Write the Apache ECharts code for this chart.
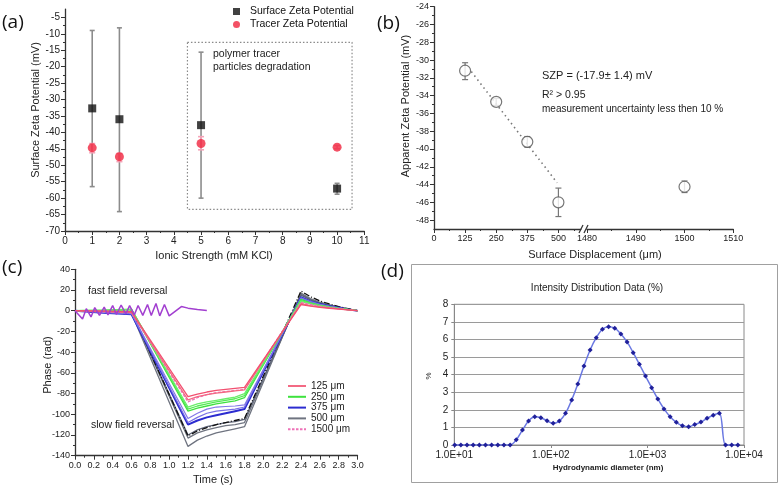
<!DOCTYPE html>
<html><head><meta charset="utf-8">
<script src="https://cdn.jsdelivr.net/npm/echarts@6/dist/echarts.min.js"></script>
<style>html,body{margin:0;padding:0;background:#fff}#c{width:780px;height:486px}</style>
</head><body><div id="c"></div>
<script>
// ---------- (a) ----------
const ionicStrength = [1, 2, 5, 10];
const surfaceZP = [-32.7, -36.0, -37.8, -57.1];
const surfaceZPHigh = [-9.0, -8.2, -15.6, -55.5];
const surfaceZPLow = [-56.5, -64.1, -60.0, -58.8];
const tracerZP = [-44.7, -47.4, -43.4, -44.5];
const tracerZPHigh = [-43.4, -46.4, -41.3, -44.0];
const tracerZPLow = [-46.2, -48.9, -45.3, -45.0];
const degradationBoxX = [4.5, 10.55, 10.55, 4.5, 4.5];
const degradationBoxY = [-12.6, -12.6, -63.4, -63.4, -12.6];
const aXMajor = [0,1,2,3,4,5,6,7,8,9,10,11];
const aXMinor = [0.5,1.5,2.5,3.5,4.5,5.5,6.5,7.5,8.5,9.5,10.5];
const aYMajor = [-70,-65,-60,-55,-50,-45,-40,-35,-30,-25,-20,-15,-10,-5];
const aYMinor = [-67.5,-62.5,-57.5,-52.5,-47.5,-42.5,-37.5,-32.5,-27.5,-22.5,-17.5,-12.5,-7.5];

// ---------- (b) ----------
const displacement = [125, 250, 375, 500];
const apparentZP = [-31.2, -34.7, -39.2, -46.0];
const apparentZPHigh = [-30.3, -34.3, -38.6, -44.4];
const apparentZPLow = [-32.2, -35.1, -39.8, -47.6];
const displacementFar = [1500];
const apparentZPFar = [-44.25];
const apparentZPFarHigh = [-43.6];
const apparentZPFarLow = [-44.9];
const fitX = [150, 495];
const fitY = [-31.3, -43.8];
const bXMajor = [0,125,250,375,500];
const bXMinor = [62.5,187.5,312.5,437.5,562.5];
const bX2Major = [1480,1490,1500,1510];
const bX2Minor = [1485,1495,1505];
const bYMajor = [-48,-46,-44,-42,-40,-38,-36,-34,-32,-30,-28,-26,-24];
const bYMinor = [-47,-45,-43,-41,-39,-37,-35,-33,-31,-29,-27,-25];

// ---------- (c) ----------
const cTime = [0, 0.3, 0.6, 1.2, 1.3, 1.4, 1.5, 1.6, 1.7, 1.8, 2.4, 2.5, 2.6, 2.7, 2.8, 2.9, 3.0];
const phase125a = [0, -0.5, -1, -83, -80.5, -78.5, -77, -76, -75, -74, 6, 4.5, 3.3, 2.4, 1.6, 0.8, 0];
const phase125b = [0, -0.5, -1.5, -86, -83, -81, -79.5, -78.5, -77.5, -76.5, 7, 5, 3.8, 2.7, 1.8, 0.9, 0];
const phase1500 = [0, -1, -2, -88, -84, -81, -79, -78, -77, -76, 8, 6, 4.4, 3.1, 2, 1, 0];
const phase250a = [0, 0.5, 1, -93, -90, -88, -86.5, -85, -83.5, -80, 9, 6.5, 4.6, 3.2, 2, 1, 0];
const phase250b = [0, 0.5, 1.5, -95, -92, -90, -88, -86.5, -85, -82, 10, 7, 5, 3.5, 2.2, 1.1, 0];
const phase250c = [0, 0, 1, -97, -94, -92, -90, -88.5, -87, -84, 11, 7.5, 5.3, 3.7, 2.3, 1.2, 0];
const phase375a = [0, -2, -3.5, -110, -106, -103, -101, -99, -97, -95, 13, 9, 6.5, 4.5, 2.8, 1.3, 0];
const phase375b = [0, -1.5, -2.5, -104, -99, -95, -93, -92.5, -92, -91, 12, 8.5, 6, 4.2, 2.6, 1.2, 0];
const phase375c = [0, -1.5, -3, -108, -103, -99, -97, -96, -95, -93, 12.5, 8.8, 6.2, 4.3, 2.7, 1.3, 0];
const phase500a = [0, -1, -1.5, -120, -115, -112, -110, -108, -107, -105, 15, 10.5, 7.3, 5, 3.2, 1.5, 0];
const phase500b = [0, -1, -2, -123, -118, -115, -113, -111, -110, -108, 16, 11, 7.7, 5.3, 3.4, 1.6, 0];
const phase500c = [0, -1.5, -2.5, -131, -125, -121, -118, -116, -114, -112, 17, 11.8, 8.2, 5.6, 3.6, 1.7, 0];
const phaseRef = [0, -1, -0.5, -121, -116, -113, -110, -108, -106, -104, 19, 13.5, 9.5, 6.5, 4, 1.9, 0];
const fastTime = [0, 0.08, 0.12, 0.17, 0.21, 0.26, 0.31, 0.35, 0.40, 0.44, 0.49, 0.54, 0.58, 0.63, 0.67, 0.72, 0.77, 0.81, 0.86, 0.90, 0.95, 1.00, 1.13, 1.20, 1.30, 1.40];
const fastPhase = [0, -8, 2, -6, 3, -4.5, 3.5, -4, 5, -3.5, 5.5, -3, 5, -4, 5, -4.5, 6, -4.5, 7, -5, 6, -5, 4, 2.5, 1.2, 0.3];
const cXMajor = [0,0.2,0.4,0.6,0.8,1.0,1.2,1.4,1.6,1.8,2.0,2.2,2.4,2.6,2.8,3.0];
const cXMinor = [0.1,0.3,0.5,0.7,0.9,1.1,1.3,1.5,1.7,1.9,2.1,2.3,2.5,2.7,2.9];
const cYMajor = [-140,-120,-100,-80,-60,-40,-20,0,20,40];
const cYMinor = [-130,-110,-90,-70,-50,-30,-10,10,30];

// ---------- (d) ----------
const hydroDiameter = [10.1, 11.7, 13.54, 15.69, 18.17, 21.04, 24.36, 28.21, 32.67, 37.84,
  43.82, 50.75, 58.77, 68.06, 78.82, 91.28, 105.7, 122.4, 141.8, 164.2,
  190.1, 220.2, 255, 295.3, 342, 396.1, 458.7, 531.2, 615.1, 712.4,
  825, 955.4, 1106, 1281, 1484, 1718, 1990, 2305, 2669, 3091,
  3580, 4145, 4801, 5560, 6439, 7456, 8635];
const intensity = [0,0,0,0,0,0,0,0,0,0,
  0.3,0.85,1.36,1.6,1.55,1.38,1.23,1.36,1.8,2.56,
  3.47,4.49,5.4,6.1,6.58,6.73,6.64,6.31,5.86,5.25,
  4.59,3.92,3.26,2.62,2.05,1.61,1.29,1.1,1.04,1.16,
  1.31,1.52,1.69,1.8,0,0,0];
const dYTicks = [0,1,2,3,4,5,6,7,8];

// ---------- helpers ----------
const FONT = 'Liberation Sans, Arial, sans-serif';
const zip = (xs, ys) => xs.map((x, i) => [x, ys[i]]);

function axisPair(kind, gridIndex, min, max, major, minor, labelOpt) {
  const pos = kind === 'x' ? 'bottom' : 'left';
  const main = {type:'value', gridIndex, min, max, position:pos,
    axisLine:{show:true, onZero:false, lineStyle:{color:'#333', width:1.3}},
    axisTick:{show:true, customValues:major, length:4, lineStyle:{color:'#333', width:1}},
    axisLabel:Object.assign({customValues:major, fontSize:9.5, color:'#222', margin:5, fontFamily:FONT, formatter:v => String(v)}, labelOpt || {}),
    splitLine:{show:false}};
  const mn = {type:'value', gridIndex, min, max, position:pos,
    axisLine:{show:false, onZero:false},
    axisTick:{show:true, customValues:minor, length:2, lineStyle:{color:'#333', width:1}},
    axisLabel:{show:false}, splitLine:{show:false}};
  return [main, mn];
}

function errorBars(xIdx, yIdx, xs, lows, highs, color, cap, width, z) {
  return {type:'custom', xAxisIndex:xIdx, yAxisIndex:yIdx, silent:true, z:z || 2,
    data: xs.map((x, i) => [x, lows[i], highs[i]]),
    encode:{x:0, y:[1,2]},
    renderItem:(params, api) => {
      const x = api.value(0);
      const lo = api.coord([x, api.value(1)]);
      const hi = api.coord([x, api.value(2)]);
      const s = {stroke:color, lineWidth:width};
      return {type:'group', children:[
        {type:'line', shape:{x1:lo[0], y1:lo[1], x2:hi[0], y2:hi[1]}, style:s},
        {type:'line', shape:{x1:lo[0]-cap, y1:lo[1], x2:lo[0]+cap, y2:lo[1]}, style:s},
        {type:'line', shape:{x1:hi[0]-cap, y1:hi[1], x2:hi[0]+cap, y2:hi[1]}, style:s}
      ]};
    }};
}

function T(x, y, text, size, extra) {
  return Object.assign({type:'text', x, y, silent:true, z:20,
    style:Object.assign({text, fontSize:size, fontFamily:FONT, fill:'#222', align:'left', verticalAlign:'middle'}, (extra && extra.style) || {})},
    extra && extra.rotation !== undefined ? {rotation:extra.rotation} : {});
}

// ---------- axes ----------
const [ax, axm] = axisPair('x', 0, 0, 11, aXMajor, aXMinor, {fontSize:10});
const [ay, aym] = axisPair('y', 0, -70, -2.5, aYMajor, aYMinor, {fontSize:10});
const [b1x, b1xm] = axisPair('x', 1, 0, 590, bXMajor, bXMinor, {fontSize:9});
const [b1y, b1ym] = axisPair('y', 1, -49, -24, bYMajor, bYMinor, {fontSize:9});
const [b2x, b2xm] = axisPair('x', 2, 1480, 1510, bX2Major, bX2Minor, {fontSize:9});
const b2y = {type:'value', gridIndex:2, min:-49, max:-24, show:false};
const [cx, cxm] = axisPair('x', 3, 0, 3, cXMajor, cXMinor, {fontSize:9, formatter:v => v.toFixed(1)});
const [cy, cym] = axisPair('y', 3, -140, 40, cYMajor, cYMinor, {fontSize:9});
const dx = {type:'log', logBase:10, gridIndex:4, min:10, max:10000, position:'bottom',
  axisLine:{show:true, onZero:false, lineStyle:{color:'#888', width:1}},
  axisTick:{show:true, length:3, lineStyle:{color:'#888'}},
  minorTick:{show:false},
  axisLabel:{fontSize:10, color:'#222', margin:5, fontFamily:FONT,
    formatter:v => '1.0E+' + String(Math.round(Math.log10(v))).padStart(2, '0')},
  splitLine:{show:false}};
const dy = {type:'value', gridIndex:4, min:0, max:8, interval:1, position:'left',
  axisLine:{show:true, onZero:false, lineStyle:{color:'#888', width:1}},
  axisTick:{show:true, length:3, lineStyle:{color:'#888'}},
  axisLabel:{fontSize:10, color:'#222', margin:6, fontFamily:FONT, customValues:dYTicks},
  splitLine:{show:true, lineStyle:{color:'#9a9a9a', width:1}}};

// ---------- series ----------
const series = [];
// (a)
series.push({type:'line', xAxisIndex:0, yAxisIndex:0, silent:true, symbol:'none',
  data:zip(degradationBoxX, degradationBoxY), lineStyle:{color:'#8a8a8a', width:1.2, type:[1.5,2]}, z:1});
series.push(errorBars(0, 0, ionicStrength, surfaceZPLow, surfaceZPHigh, '#8c8c8c', 2.5, 1.6, 2));
series.push(errorBars(0, 0, ionicStrength, tracerZPLow, tracerZPHigh, '#f4a3b8', 3, 1.6, 3));
series.push({type:'scatter', name:'Surface Zeta Potential', xAxisIndex:0, yAxisIndex:0, symbol:'rect', symbolSize:8,
  data:zip(ionicStrength, surfaceZP), itemStyle:{color:'#111'}, z:5});
series.push({type:'scatter', name:'Tracer Zeta Potential', xAxisIndex:0, yAxisIndex:0, symbol:'circle', symbolSize:9,
  data:zip(ionicStrength, tracerZP), itemStyle:{color:'#f0253f'}, z:5});
// (b)
series.push({type:'line', xAxisIndex:2, yAxisIndex:2, silent:true, symbol:'none',
  data:zip(fitX, fitY), lineStyle:{color:'#777', width:1.6, type:[1.5,3.5]}, z:1});
series.push(errorBars(2, 2, displacement, apparentZPLow, apparentZPHigh, '#777', 3, 1.2, 2));
series.push(errorBars(4, 4, displacementFar, apparentZPFarLow, apparentZPFarHigh, '#777', 3, 1.2, 2));
series.push({type:'scatter', xAxisIndex:2, yAxisIndex:2, symbol:'circle', symbolSize:11,
  data:zip(displacement, apparentZP), itemStyle:{color:'#fff', borderColor:'#555', borderWidth:1.2}, z:5});
series.push({type:'scatter', xAxisIndex:4, yAxisIndex:4, symbol:'circle', symbolSize:11,
  data:zip(displacementFar, apparentZPFar), itemStyle:{color:'#fff', borderColor:'#555', borderWidth:1.2}, z:5});
// (c)
const cLines = [
  {name:'500 μm', vals:phase500c, color:'#6f7480', w:1.3},
  {name:'500 μm', vals:phase500b, color:'#6f7480', w:1.3},
  {name:'500 μm', vals:phase500a, color:'#5d6478', w:1.3},
  {name:'', vals:phaseRef, color:'#111', w:1.3, type:[6,2,1,2]},
  {name:'375 μm', vals:phase375a, color:'#2c2cd0', w:2},
  {name:'375 μm', vals:phase375b, color:'#8478e8', w:1.2},
  {name:'375 μm', vals:phase375c, color:'#7a70e6', w:1.2},
  {name:'250 μm', vals:phase250c, color:'#3ee23e', w:1.3},
  {name:'250 μm', vals:phase250b, color:'#55ea55', w:1.3},
  {name:'250 μm', vals:phase250a, color:'#6aee6a', w:1.3},
  {name:'1500 μm', vals:phase1500, color:'#ee72b8', w:1.3, type:[3,1.5]},
  {name:'125 μm', vals:phase125b, color:'#f36a84', w:1.3},
  {name:'125 μm', vals:phase125a, color:'#f25070', w:1.3}
];
cLines.forEach(l => series.push({type:'line', name:l.name || undefined, xAxisIndex:6, yAxisIndex:5, symbol:'none', silent:true,
  data:zip(cTime, l.vals), lineStyle:{color:l.color, width:l.w, type:l.type || 'solid'}, itemStyle:{color:l.color}, z:3}));
series.push({type:'line', xAxisIndex:6, yAxisIndex:5, symbol:'none', silent:true,
  data:zip(fastTime, fastPhase), lineStyle:{color:'#a23fd0', width:1.5}, z:4});
// (d)
series.push({type:'line', xAxisIndex:8, yAxisIndex:7, smooth:0.35, symbol:'diamond', symbolSize:5,
  data:zip(hydroDiameter, intensity), lineStyle:{color:'#6a78e2', width:1.5}, itemStyle:{color:'#20209a'}, z:4});

const SOLID = 'path://M0,0H18V2H0Z';
const DOTTED = 'path://M0,0H2.5V2H0ZM4,0H6.5V2H4ZM8,0H10.5V2H8ZM12,0H14.5V2H12ZM16,0H18V2H16Z';
const option = {
  animation:false,
  backgroundColor:'#fff',
  textStyle:{fontFamily:FONT},
  grid:[
    {left:65, top:9.1, width:299.3, height:221.9, containLabel:false, outerBoundsMode:'none'},
    {left:434, top:6.7, width:146.8, height:222.3, containLabel:false, outerBoundsMode:'none'},
    {left:587, top:6.7, width:146.3, height:222.3, containLabel:false, outerBoundsMode:'none'},
    {left:75, top:269.3, width:282.5, height:186.4, containLabel:false, outerBoundsMode:'none'},
    {left:454.3, top:304.3, width:289.7, height:140.7, containLabel:false, outerBoundsMode:'none', show:true, borderColor:'#8a8a8a', borderWidth:1}
  ],
  xAxis:[ax, axm, b1x, b1xm, b2x, b2xm, cx, cxm, dx],
  yAxis:[ay, aym, b1y, b1ym, b2y, cy, cym, dy],
  legend:[
    {data:[{name:'Surface Zeta Potential', icon:'rect'}, {name:'Tracer Zeta Potential', icon:'circle'}],
     orient:'vertical', left:228, top:1, itemWidth:7, itemHeight:7, itemGap:2, selectedMode:false,
     textStyle:{fontSize:10.5, color:'#111', fontFamily:FONT, padding:[0,0,0,5]}},
    {data:[{name:'125 μm', icon:SOLID}, {name:'250 μm', icon:SOLID}, {name:'375 μm', icon:SOLID},
           {name:'500 μm', icon:SOLID}, {name:'1500 μm', icon:DOTTED}],
     orient:'vertical', left:283, top:376, itemWidth:18, itemHeight:2, itemGap:0.8, selectedMode:false,
     textStyle:{fontSize:10, color:'#222', lineHeight:10, fontFamily:FONT}}
  ],
  graphic:[
    T(2, 23, '(a)', 19, {style:{fontFamily:'Open Sans, Liberation Sans', fill:'#111'}}),
    T(377, 24, '(b)', 19, {style:{fontFamily:'Open Sans, Liberation Sans', fill:'#111'}}),
    T(2, 268, '(c)', 19, {style:{fontFamily:'Open Sans, Liberation Sans', fill:'#111'}}),
    T(381, 272, '(d)', 19, {style:{fontFamily:'Open Sans, Liberation Sans', fill:'#111'}}),
    // axis titles
    T(36, 110, 'Surface Zeta Potential (mV)', 11, {rotation:Math.PI/2, style:{align:'center'}}),
    T(214, 256, 'Ionic Strength (mM KCl)', 11, {style:{align:'center'}}),
    T(406, 106, 'Apparent Zeta Potential (mV)', 11, {rotation:Math.PI/2, style:{align:'center'}}),
    T(595, 255, 'Surface Displacement (μm)', 11, {style:{align:'center'}}),
    T(48, 365, 'Phase (rad)', 11, {rotation:Math.PI/2, style:{align:'center'}}),
    T(213, 480, 'Time (s)', 11, {style:{align:'center'}}),
    T(429, 376, '%', 8, {rotation:Math.PI/2, style:{align:'center'}}),
    T(608, 468, 'Hydrodynamic diameter (nm)', 8, {style:{align:'center', fontWeight:'bold'}}),
    T(597, 288, 'Intensity Distribution Data (%)', 10, {style:{align:'center'}}),
    // annotations
    T(213, 54, 'polymer tracer', 10.5),
    T(213, 67, 'particles degradation', 10.5),
    T(542, 76, 'SZP = (-17.9± 1.4) mV', 11),
    T(542, 95, 'R² > 0.95', 10.5),
    T(542, 109, 'measurement uncertainty less then 10 %', 10),
    T(88, 291, 'fast field reversal', 10.5),
    T(91, 425, 'slow field reversal', 10.5),
    // axis break marks (b)
    {type:'line', silent:true, z:20, shape:{x1:579, y1:233, x2:583, y2:225}, style:{stroke:'#333', lineWidth:1.2}},
    {type:'line', silent:true, z:20, shape:{x1:584, y1:233, x2:588, y2:225}, style:{stroke:'#333', lineWidth:1.2}},
    // (d) frame
    {type:'rect', silent:true, z:0, shape:{x:411.5, y:264.5, width:366, height:218}, style:{fill:'none', stroke:'#a0a0a0', lineWidth:1}}
  ],
  series
};
const chart = echarts.init(document.getElementById('c'));
chart.setOption(option);
</script>
</body></html>
